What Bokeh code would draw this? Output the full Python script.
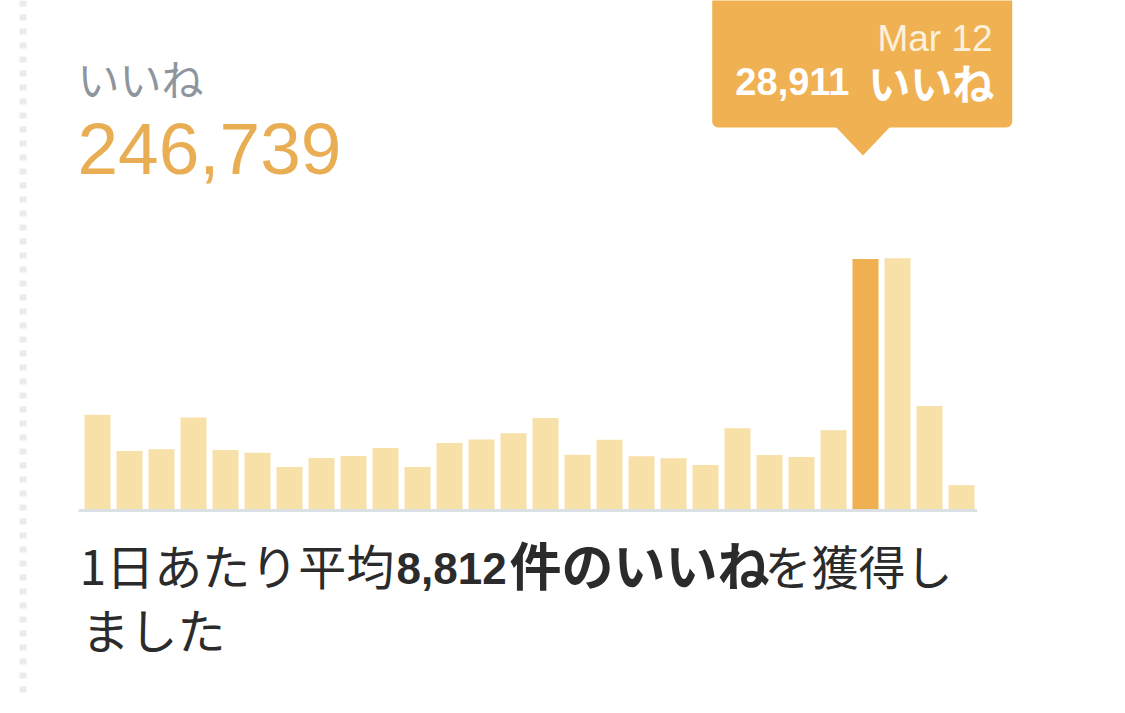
from bokeh.plotting import figure
from bokeh.models import Range1d, Label, BoxAnnotation, PolyAnnotation, Span, ColumnDataSource
from bokeh.embed import file_html
from bokeh.resources import INLINE

# ---- data ----
dates = ["Feb 16", "Feb 17", "Feb 18", "Feb 19", "Feb 20", "Feb 21", "Feb 22",
         "Feb 23", "Feb 24", "Feb 25", "Feb 26", "Feb 27", "Feb 28", "Mar 1",
         "Mar 2", "Mar 3", "Mar 4", "Mar 5", "Mar 6", "Mar 7", "Mar 8",
         "Mar 9", "Mar 10", "Mar 11", "Mar 12", "Mar 13", "Mar 14", "Mar 15"]
likes = [10900, 6700, 6900, 10570, 6820, 6500, 4850,
         5900, 6130, 7050, 4860, 7630, 8050, 8770,
         10530, 6280, 8000, 6090, 5860, 5090, 9330,
         6240, 6010, 9100, 28911, 29000, 11900, 2768]
highlight_date = "Mar 12"
metric_label = "いいね"

total = sum(likes)
average = round(total / len(likes))
hi = dates.index(highlight_date)
hi_value = likes[hi]

# ---- colours ----
BAR = "#f7e1a8"
BAR_HI = "#efb052"
ORANGE = "#e9ae54"
BOX = "#f0b153"
GRAY = "#8e959d"
DARK = "#2b2b2b"

# ---- geometry ----
W, H = 1109, 697
SLOT = 32.0               # px per bar slot
FIRST_CENTER = 97.0       # canvas px of first bar centre
BASE = 188.5              # baseline px from bottom
VPP = 28911 / 250.0       # value per pixel

x0 = -FIRST_CENTER / SLOT
p = figure(width=W, height=H,
           x_range=Range1d(x0, x0 + W / SLOT),
           y_range=Range1d(-BASE * VPP, (H - BASE) * VPP),
           x_axis_type=None, y_axis_type=None,
           output_backend="svg", toolbar_location=None,
           min_border=0, outline_line_color=None,
           background_fill_color="white", border_fill_color="white")
p.grid.visible = False

xs = list(range(len(likes)))
colors = [BAR_HI if i == hi else BAR for i in xs]
src = ColumnDataSource(dict(x=xs, likes=likes, color=colors, date=dates))

# baseline
p.quad(left=-0.59, right=len(likes) - 0.51, bottom=-3 * VPP, top=0,
       fill_color="#dcdfe4", line_color=None)
# bars
p.vbar(x="x", top="likes", bottom=0, width=26 / SLOT, fill_color="color",
       line_color=None, source=src)

# dotted left border
p.add_layout(Span(location=22.5, location_units="screen", dimension="height",
                  line_color="#ebebeb", line_width=7, line_dash="6 8"))


def lab(text, X, Y, size, color, font, align="left", baseline="alphabetic",
        style="normal", xunits="screen"):
    p.add_layout(Label(x=X, y=H - Y, x_units=xunits, y_units="screen",
                       text=text, text_font=font, text_font_size=f"{size}px",
                       text_color=color, text_align=align, text_baseline=baseline,
                       text_font_style=style))


CJK = "Noto Sans CJK JP"
LAT = "Liberation Sans"


def lat(text, X, bottom, size, color, **kw):
    lab(text, X, bottom - 0.385 * size, size, color, LAT, **kw)


def cjk(text, X, center, size, color, **kw):
    lab(text, X, center - 0.11 * size, size, color, CJK, baseline="middle", **kw)


# header
cjk(metric_label, 77, 81.5, 42, GRAY)
lat(f"{total:,}", 77, 177, 73, ORANGE)

# tooltip
p.add_layout(BoxAnnotation(left=hi - 4.79, right=hi + 4.585,
                           left_units="data", right_units="data",
                           bottom=H - 127, top=H + 30,
                           bottom_units="screen", top_units="screen",
                           fill_color=BOX, fill_alpha=1, line_color=None,
                           border_radius=6))
p.add_layout(PolyAnnotation(xs=[hi - 0.94, hi + 0.78, hi - 0.08],
                            ys=[H - 126, H - 126, H - 155],
                            xs_units="data", ys_units="screen",
                            fill_color=BOX, fill_alpha=1, line_color=None))
lat(highlight_date, hi + 3.97, 52, 37, "#fdf1dc", align="right", xunits="data")
lat(f"{hi_value:,}", hi - 0.5, 96, 38, "white", align="right",
    style="bold", xunits="data")
cjk(metric_label, hi + 4.02, 86, 42, "white", align="right",
    style="bold", xunits="data")

# summary sentence
cjk("1日あたり平均", 79, 569, 48, DARK)
lat(f"{average:,}", 396, 585, 44, DARK, style="bold")
cjk(f"件の{metric_label}", 509, 569, 52, DARK, style="bold")
cjk("を獲得し", 764, 569, 47, DARK)
cjk("ました", 81, 633, 48, DARK)

open("out.html", "w").write(file_html(p, INLINE))
